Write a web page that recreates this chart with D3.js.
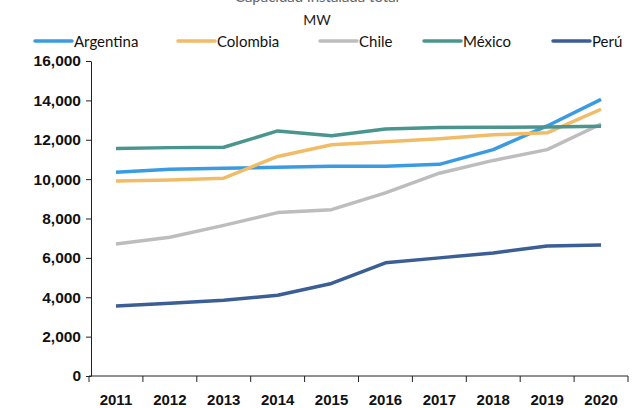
<!DOCTYPE html>
<html>
<head>
<meta charset="utf-8">
<script src="https://cdn.jsdelivr.net/npm/d3@7"></script>
<style>
  body { margin: 0; background: white; }
  svg { display: block; font-family: Lato, "Open Sans", sans-serif; }
</style>
</head>
<body>
<div id="container"></div>
<script>
/* CONSTANTS AND GLOBALS */
const width = 635,
  height = 408;

/* DATA */
const years = ["2011", "2012", "2013", "2014", "2015", "2016", "2017", "2018", "2019", "2020"];
const countries = ["Argentina", "Colombia", "Chile", "México", "Perú"];
const colors = ["#3a9be2", "#f0bc68", "#bdbdbd", "#4a968f", "#3b5e95"];

const argentina = [10350, 10500, 10550, 10600, 10650, 10650, 10750, 11500, 12700, 14050];
const colombia = [9900, 9950, 10050, 11150, 11750, 11900, 12050, 12250, 12350, 13550];
const chile = [6700, 7050, 7650, 8300, 8450, 9300, 10300, 10950, 11500, 12800];
const mexico = [11550, 11600, 11620, 12450, 12200, 12550, 12620, 12630, 12650, 12680];
const peru = [3550, 3700, 3850, 4100, 4700, 5750, 6000, 6250, 6600, 6650];

const yTicks = [0, 2000, 4000, 6000, 8000, 10000, 12000, 14000, 16000];

const series = [argentina, colombia, chile, mexico, peru].map((vals, i) => ({
  name: countries[i],
  color: colors[i],
  values: vals.map((v, j) => ({ year: years[j], value: v }))
}));

const svg = d3.select("#container")
  .append("svg")
  .attr("width", width)
  .attr("height", height);

/* SCALES */
const xScale = d3.scaleBand()
  .domain(years)
  .range([89, 628]);

const yScale = d3.scaleLinear()
  .domain([0, 16000])
  .range([376, 61]);

/* TITLE (clipped at top, as in the original) */
svg.append("text")
  .attr("x", 317)
  .attr("y", 1.5)
  .attr("text-anchor", "middle")
  .style("font-size", "15px")
  .style("fill", "#666")
  .text("Capacidad instalada total");

svg.append("text")
  .attr("x", 317)
  .attr("y", 25)
  .attr("text-anchor", "middle")
  .style("font-size", "14px")
  .style("fill", "#222")
  .text("MW");

/* LEGEND */
const legendX = [35, 178, 320, 424, 553];
const legend = svg.selectAll(".legend")
  .data(series)
  .join("g")
  .attr("class", "legend")
  .attr("transform", (d, i) => `translate(${legendX[i]}, 41)`);

legend.append("line")
  .attr("x1", 0).attr("x2", 37)
  .attr("stroke", d => d.color)
  .attr("stroke-width", 3.5)
  .attr("stroke-linecap", "round");

legend.append("text")
  .attr("x", 39)
  .attr("y", 5.5)
  .style("font-size", "15px")
  .style("fill", "#111")
  .text(d => d.name);

/* AXES */
svg.append("g")
  .attr("class", "y-axis")
  .attr("transform", "translate(91,0)")
  .call(d3.axisLeft(yScale).tickValues(yTicks).tickFormat(d3.format(",")).tickSize(5).tickSizeOuter(0))
  .call(g => g.select(".domain").attr("stroke", "#222"))
  .call(g => g.selectAll(".tick line").attr("stroke", "#222"))
  .call(g => g.selectAll("text")
    .attr("x", -10)
    .style("font-size", "15.5px")
    .style("font-weight", "bold")
    .style("fill", "#111"));

svg.append("g")
  .attr("class", "x-axis")
  .attr("transform", "translate(0,376)")
  .call(d3.axisBottom(xScale).tickSize(0).tickSizeOuter(0))
  .call(g => g.select(".domain").attr("stroke", "#222").attr("d", "M89,0H628"))
  .call(g => g.selectAll("text")
    .attr("y", 18)
    .style("font-size", "15px")
    .style("font-weight", "bold")
    .style("fill", "#111"));

// tick marks between categories
const bounds = years.map(y => xScale(y)).concat([xScale.range()[1]]);
svg.append("g")
  .selectAll("line")
  .data(bounds)
  .join("line")
  .attr("x1", d => d).attr("x2", d => d)
  .attr("y1", 376).attr("y2", 382)
  .attr("stroke", "#222");

/* LINES */
const line = d3.line()
  .x(d => xScale(d.year) + xScale.bandwidth() / 2)
  .y(d => yScale(d.value));

svg.selectAll(".series")
  .data(series)
  .join("path")
  .attr("class", "series")
  .attr("d", d => line(d.values))
  .attr("fill", "none")
  .attr("stroke", d => d.color)
  .attr("stroke-width", 3.5)
  .attr("stroke-linejoin", "round");
</script>
</body>
</html>
